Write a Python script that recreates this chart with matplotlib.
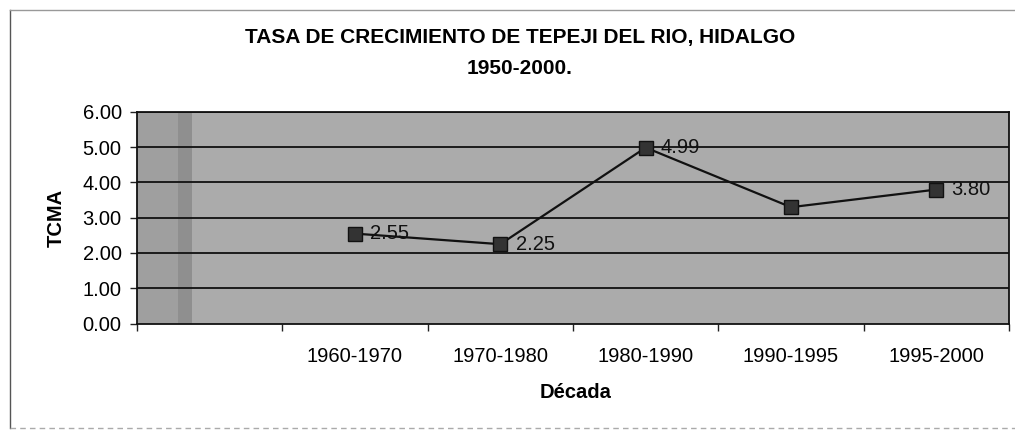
import matplotlib
matplotlib.use("Agg")
import matplotlib.pyplot as plt
import numpy as np

plt.rcParams['font.family'] = ['Liberation Sans', 'DejaVu Sans']

categories = ['', '1960-1970', '1970-1980', '1980-1990', '1990-1995', '1995-2000']
tcma = [np.nan, 2.55, 2.25, 4.99, 3.30, 3.80]
point_labels = ['', '2.55', '2.25', '4.99', '', '3.80']
y_ticks = [0, 1, 2, 3, 4, 5, 6]

fig = plt.figure(figsize=(10.15, 4.33), dpi=100)
ax = fig.add_axes([137/1015, 1-323.5/433, (1009-137)/1015, (323.5-112)/433])

ax.set_facecolor('#ababab')
x = np.arange(len(categories))
ax.set_xlim(-0.5, len(categories) - 0.5)
ax.set_ylim(0, 6)

# texture of the original background: slightly darker left strip and a dark band
ax.axvspan(-0.5, -0.22, color='#9a9a9a', alpha=0.7, lw=0, zorder=0)
ax.axvspan(-0.22, -0.12, color='#888888', alpha=0.8, lw=0, zorder=0)

for yv in y_ticks[1:]:
    ax.axhline(yv, color='#111111', lw=1.3, zorder=1)

ax.plot(x, tcma, color='#111111', lw=1.6, marker='s', markersize=10,
        markerfacecolor='#333333', markeredgecolor='#111111', zorder=3)

for xi, yi, lab in zip(x, tcma, point_labels):
    if lab:
        ax.annotate(lab, (xi, yi), xytext=(11, 0), textcoords='offset points',
                    ha='left', va='center', fontsize=14.5, color='#111111', zorder=4)

ax.set_yticks(y_ticks)
ax.set_yticklabels([f'{v:.2f}' for v in y_ticks], fontsize=14.5)
ax.set_xticks(np.arange(len(categories) + 1) - 0.5)
ax.set_xticklabels([])
ax.set_xticks(x, minor=True)
ax.set_xticklabels(categories, minor=True, fontsize=14.5)
ax.tick_params(axis='x', which='major', direction='out', length=5, width=1, color='#222222')
ax.tick_params(axis='x', which='minor', length=0, pad=17)
ax.tick_params(axis='y', direction='out', length=5, width=1, color='#222222', pad=6)

for s in ax.spines.values():
    s.set_color('#111111')
    s.set_linewidth(1.3)

ax.set_ylabel('TCMA', fontsize=14.5, fontweight='bold')
ax.yaxis.set_label_coords(-(137-66)/(1009-137), 0.5)
fig.text(576/1015, 1-392/433, 'Década', ha='center', va='center', fontsize=14.5, fontweight='bold')

fig.text(520/1015, 1-37/433, 'TASA DE CRECIMIENTO DE TEPEJI DEL RIO, HIDALGO',
         ha='center', va='center', fontsize=15, fontweight='bold')
fig.text(520/1015, 1-68/433, '1950-2000.', ha='center', va='center', fontsize=15, fontweight='bold')

# outer chart border (left, top and faint bottom visible)
fig.add_artist(plt.Line2D([10/1015, 10/1015], [1-428/433, 1-10/433], color='#555555', lw=1))
fig.add_artist(plt.Line2D([10/1015, 1.0], [1-10/433, 1-10/433], color='#999999', lw=1))
fig.add_artist(plt.Line2D([10/1015, 1.0], [1-428/433, 1-428/433], color='#aaaaaa', lw=1, ls=(0, (4, 3))))

fig.savefig('out.png', dpi=100)
